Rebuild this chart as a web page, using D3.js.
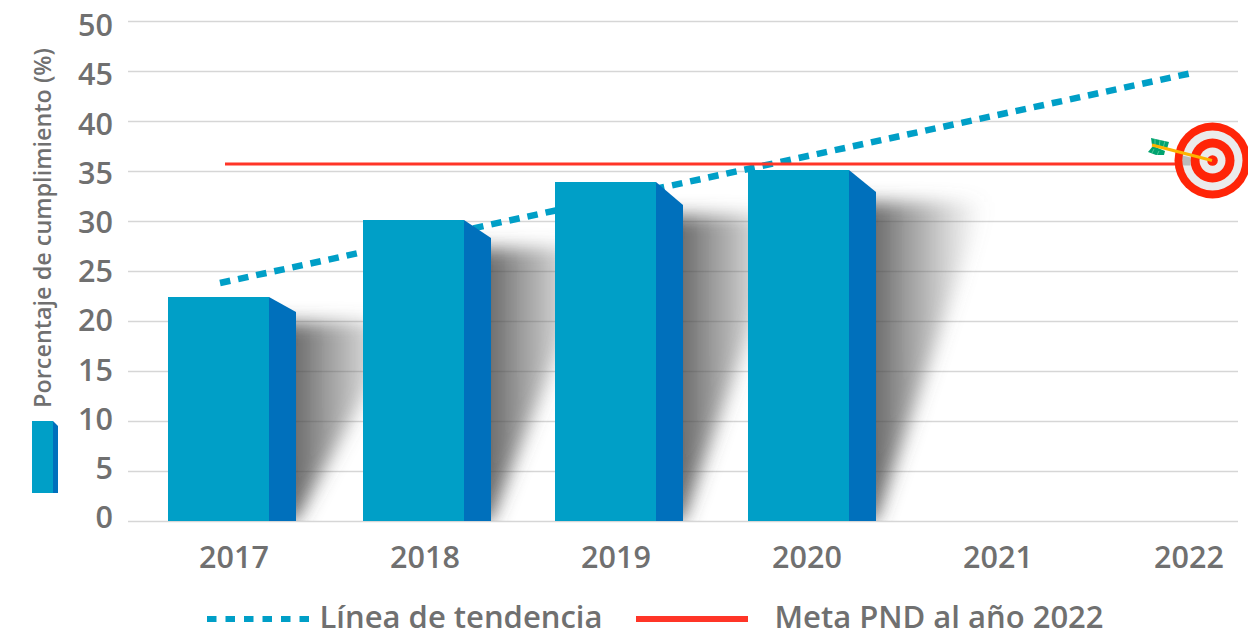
<!DOCTYPE html>
<html>
<head>
<meta charset="utf-8">
<script src="https://cdnjs.cloudflare.com/ajax/libs/d3/7.8.5/d3.min.js"></script>
<style>
  html, body { margin: 0; padding: 0; background: #fff; }
  text { font-family: "Open Sans", sans-serif; font-weight: 600; fill: #707070; }
</style>
</head>
<body>
<div id="chart"></div>
<script>
// data ************************************************************
var years = ["2017", "2018", "2019", "2020", "2021", "2022"];
var barYears = ["2017", "2018", "2019", "2020"];
var barValues = [22.4, 30.1, 33.9, 35.1];
var sideDrop = [1.5, 1.8, 2.3, 2.2];
var yTicks = [0, 5, 10, 15, 20, 25, 30, 35, 40, 45, 50];
var trendYears = [2017, 2022];
var trendValues = [23.8, 44.8];
var metaYears = [2017, 2022];
var metaValues = [35.7, 35.7];
var yTitle = "Porcentaje de cumplimiento (%)";
var legendTrend = "Línea de tendencia";
var legendMeta = "Meta PND al año 2022";

// layout ************************************************************
var width = 1248, height = 633;
var y = d3.scaleLinear().domain([0, 50]).range([521, 21]);
var yLabel = d3.scaleLinear().domain([0, 50]).range([517, 25]);
var xLabel = d3.scalePoint().domain(years).range([234, 1189]);
var barLeft = d3.scaleOrdinal().domain(barYears).range([168, 363, 555, 748]);
var xTrend = d3.scaleLinear().domain(trendYears).range([220, 1192]);
var xMeta = d3.scaleLinear().domain(metaYears).range([225, 1212]);
var dropPx = d3.scaleLinear().domain([0, 50]).range([0, 500]);
var barW = 101, sideW = 27, shadowW = 108, tuck = 30;

var blue = "#009fc7", sideBlue = "#0070bc", red = "#ff3527", targetRed = "#ff2508";

var svg = d3.select("#chart").append("svg")
  .attr("width", width).attr("height", height)
  .style("display", "block");

var defs = svg.append("defs");
var grad = defs.append("linearGradient").attr("id", "shadowGrad");
grad.append("stop").attr("offset", "0.2").attr("stop-color", "#444").attr("stop-opacity", 0.8);
grad.append("stop").attr("offset", "0.6").attr("stop-color", "#666").attr("stop-opacity", 0.45);
grad.append("stop").attr("offset", "1").attr("stop-color", "#888").attr("stop-opacity", 0);
defs.append("filter").attr("id", "blur")
  .attr("x", "-20%").attr("y", "-20%").attr("width", "140%").attr("height", "140%")
  .append("feGaussianBlur").attr("stdDeviation", 9);
defs.append("clipPath").attr("id", "baseClip").append("rect")
  .attr("x", 0).attr("y", 0).attr("width", width).attr("height", y(0));

// grid + y axis ************************************************************
var axis = svg.append("g")
  .attr("transform", "translate(128,0)")
  .call(d3.axisLeft(y).tickValues(yTicks).tickSize(-1110).tickPadding(15));
axis.select(".domain").remove();
axis.selectAll("line").attr("stroke", "#d6d6d6").attr("stroke-width", 1.5);
axis.selectAll("text")
  .attr("y", function(d) { return yLabel(d) - y(d); })
  .attr("dy", "0.35em")
  .style("font-size", "30.5px");
axis.attr("font-family", null).attr("font-size", null);

svg.append("text")
  .attr("transform", "translate(51,228) rotate(-90)")
  .attr("text-anchor", "middle")
  .style("font-size", "23.4px")
  .text(yTitle);

// trend line, under the bars
var line = d3.line().x(function(d) { return d[0]; }).y(function(d) { return d[1]; });
svg.append("path")
  .attr("d", line(trendYears.map(function(t, i) { return [xTrend(t), y(trendValues[i])]; })))
  .attr("fill", "none").attr("stroke", blue)
  .attr("stroke-width", 6.5).attr("stroke-dasharray", "10.5 8");

// shadows ************************************************************
var shadows = svg.append("g").attr("clip-path", "url(#baseClip)");
shadows.selectAll("path")
  .data(barYears)
  .enter().append("path")
  .attr("d", function(d, i) {
    var right = barLeft(d) + barW + sideW;
    var top = y(barValues[i]) + dropPx(sideDrop[i]) + 10;
    return "M" + (right - tuck) + "," + y(0) + "L" + right + "," + y(0) + "L" + (right + shadowW) + "," + top + "L" + (right - tuck) + "," + top + "Z";
  })
  .attr("fill", "url(#shadowGrad)")
  .attr("filter", "url(#blur)");

// bars ************************************************************
var bars = svg.append("g");
bars.selectAll(".side")
  .data(barYears)
  .enter().append("path")
  .attr("class", "side")
  .attr("d", function(d, i) {
    var x0 = barLeft(d) + barW, x1 = x0 + sideW, t = y(barValues[i]);
    return "M" + x0 + "," + t + "L" + x1 + "," + (t + dropPx(sideDrop[i])) + "L" + x1 + "," + y(0) + "L" + x0 + "," + y(0) + "Z";
  })
  .attr("fill", sideBlue);
bars.selectAll(".front")
  .data(barYears)
  .enter().append("rect")
  .attr("class", "front")
  .attr("x", function(d) { return barLeft(d); })
  .attr("y", function(d, i) { return y(barValues[i]); })
  .attr("width", barW)
  .attr("height", function(d, i) { return y(0) - y(barValues[i]); })
  .attr("fill", blue);

// meta line
svg.append("path")
  .attr("d", line(metaYears.map(function(t, i) { return [xMeta(t), y(metaValues[i])]; })))
  .attr("fill", "none").attr("stroke", red).attr("stroke-width", 3);

// year labels
svg.selectAll(".year")
  .data(years)
  .enter().append("text")
  .attr("class", "year")
  .attr("x", function(d) { return xLabel(d); })
  .attr("y", 568)
  .attr("text-anchor", "middle")
  .style("font-size", "30.5px")
  .text(function(d) { return d; });

// target ************************************************************
var target = svg.append("g").attr("transform", "translate(1212.5,160.5)");
var rings = [[38, targetRed], [30, "#ebebeb"], [22, targetRed], [13, "#ebebeb"], [5.3, targetRed]];
target.selectAll("circle")
  .data(rings)
  .enter().append("circle")
  .attr("r", function(d) { return d[0]; })
  .attr("fill", function(d) { return d[1]; });
target.append("path").attr("d", "M-30,-5L-22,-3L-22,5L-30,5Z").attr("fill", "#999").attr("opacity", 0.6);

var arrow = svg.append("g");
arrow.append("path").attr("d", "M1151,138L1169,142L1167,149L1152,145Z").attr("fill", "#00a36f");
arrow.append("path").attr("d", "M1148,152L1153,146L1165,151L1164,155L1156,155Z").attr("fill", "#00a36f");
arrow.append("path").attr("d", "M1155,139L1155,146M1160,140L1159,147M1165,141L1163,148M1154,149L1152,153M1159,151L1157,155")
  .attr("stroke", "#4fc79a").attr("stroke-width", 1).attr("fill", "none");
arrow.append("path").attr("d", "M1152,145L1212,160.5").attr("stroke", "#fdb400").attr("stroke-width", 3);

// small bar key next to the axis title ************************************************************
var key = svg.append("g");
key.append("path").attr("d", "M53,421L58,426L58,493L53,493Z").attr("fill", sideBlue);
key.append("rect").attr("x", 32).attr("y", 421).attr("width", 21).attr("height", 72).attr("fill", blue);

// legend ************************************************************
svg.append("line").attr("x1", 207).attr("x2", 310).attr("y1", 619).attr("y2", 619)
  .attr("stroke", blue).attr("stroke-width", 6).attr("stroke-dasharray", "9.5 9");
svg.append("text").attr("x", 319.5).attr("y", 628).style("font-size", "31px").text(legendTrend);
svg.append("line").attr("x1", 636).attr("x2", 748).attr("y1", 619).attr("y2", 619)
  .attr("stroke", red).attr("stroke-width", 6);
svg.append("text").attr("x", 774.5).attr("y", 628).style("font-size", "31px").text(legendMeta);
</script>
</body>
</html>
